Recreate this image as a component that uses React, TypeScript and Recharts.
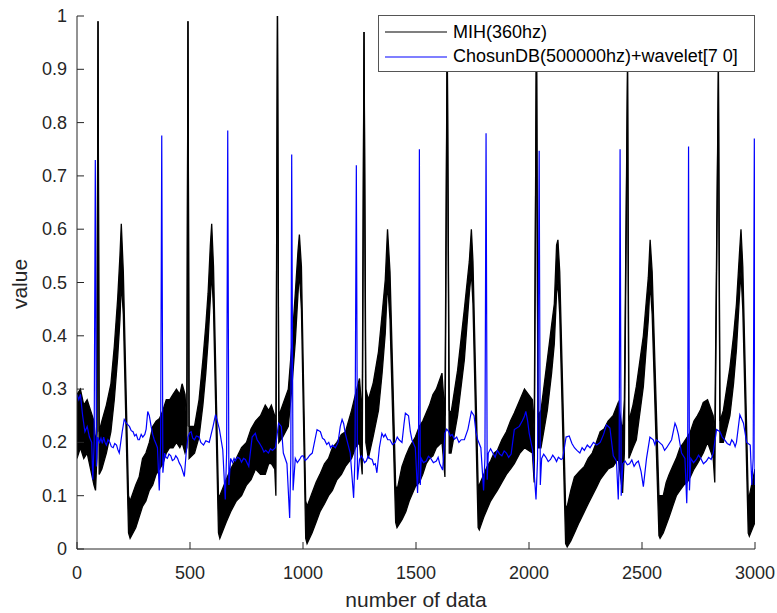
import {
  Area,
  ComposedChart,
  Label,
  Legend,
  Line,
  XAxis,
  YAxis,
} from "recharts";

const AXIS = "#262626";
const FONT = "'Liberation Sans', Arial, Helvetica, sans-serif";

const seriesNames = ["MIH(360hz)", "ChosunDB(500000hz)+wavelet[7 0]"];
const seriesColors = ["#000000", "#0000ff"];

const xTicks = [0, 500, 1000, 1500, 2000, 2500, 3000];
const yTicks = [0, 0.1, 0.2, 0.3, 0.4, 0.5, 0.6, 0.7, 0.8, 0.9, 1];
const yTickLabels = ["0", "0.1", "0.2", "0.3", "0.4", "0.5", "0.6", "0.7", "0.8", "0.9", "1"];

// MIH trace: the 360hz signal is a dense oscillation, kept as [x, low, high] of its band
const mihSamples: [number, number, number][] = [
  [0, 0.17, 0.29], [15, 0.19, 0.3], [30, 0.17, 0.27], [45, 0.18, 0.28], [60, 0.15, 0.26],
  [75, 0.12, 0.24], [82, 0.11, 0.2], [88, 0.17, 0.22], [93, 0.99, 0.99], [98, 0.14, 0.22],
  [110, 0.15, 0.24], [130, 0.18, 0.27], [150, 0.22, 0.31], [165, 0.28, 0.38], [180, 0.36, 0.47],
  [190, 0.43, 0.55], [196, 0.5, 0.61], [205, 0.44, 0.52], [228, 0.03, 0.1], [235, 0.02, 0.09],
  [260, 0.04, 0.12], [275, 0.06, 0.135], [290, 0.08, 0.17], [305, 0.09, 0.18], [320, 0.11, 0.2],
  [335, 0.12, 0.23], [350, 0.14, 0.24], [365, 0.15, 0.245], [380, 0.16, 0.26], [395, 0.18, 0.28],
  [410, 0.19, 0.28], [425, 0.19, 0.29], [440, 0.2, 0.3], [455, 0.19, 0.29], [465, 0.2, 0.31],
  [478, 0.18, 0.29], [486, 0.19, 0.23],
  [491, 0.99, 0.99], [496, 0.17, 0.23], [520, 0.18, 0.23], [540, 0.21, 0.28], [557, 0.27, 0.355],
  [570, 0.33, 0.42], [580, 0.39, 0.48], [590, 0.47, 0.57], [596, 0.52, 0.61], [604, 0.45, 0.53],
  [626, 0.03, 0.1], [632, 0.02, 0.1], [660, 0.05, 0.13], [680, 0.07, 0.15], [705, 0.09, 0.17],
  [728, 0.1, 0.19], [750, 0.12, 0.2], [770, 0.13, 0.225], [790, 0.15, 0.24], [812, 0.14, 0.25],
  [833, 0.14, 0.27], [848, 0.16, 0.26], [860, 0.16, 0.27], [875, 0.15, 0.25], [880, 0.1, 0.2],
  [887, 1.0, 1.0], [893, 0.2, 0.25], [910, 0.21, 0.27], [935, 0.23, 0.3], [950, 0.3, 0.38],
  [966, 0.39, 0.48], [978, 0.48, 0.56], [984, 0.52, 0.59], [993, 0.45, 0.53], [1012, 0.02, 0.09],
  [1018, 0.01, 0.08], [1040, 0.03, 0.105], [1058, 0.05, 0.125], [1075, 0.07, 0.14], [1095, 0.085, 0.16],
  [1113, 0.1, 0.17], [1130, 0.11, 0.19], [1150, 0.13, 0.2], [1170, 0.14, 0.215], [1188, 0.155, 0.22],
  [1215, 0.17, 0.26], [1232, 0.19, 0.29], [1250, 0.2, 0.32], [1262, 0.14, 0.25],
  [1270, 0.97, 0.97], [1278, 0.2, 0.3], [1289, 0.17, 0.28], [1310, 0.21, 0.31], [1334, 0.26, 0.37],
  [1350, 0.33, 0.44], [1364, 0.405, 0.505], [1374, 0.5, 0.6], [1385, 0.43, 0.52], [1410, 0.05, 0.12],
  [1416, 0.04, 0.11], [1438, 0.055, 0.155], [1455, 0.07, 0.175], [1470, 0.09, 0.19], [1497, 0.117, 0.21],
  [1515, 0.125, 0.23], [1530, 0.14, 0.24], [1545, 0.16, 0.255], [1560, 0.17, 0.27], [1575, 0.175, 0.29],
  [1590, 0.19, 0.3], [1615, 0.2, 0.33], [1628, 0.135, 0.25], [1638, 0.97, 0.97],
  [1647, 0.18, 0.26], [1655, 0.18, 0.255], [1684, 0.25, 0.335], [1714, 0.355, 0.45], [1736, 0.48, 0.54],
  [1745, 0.52, 0.6], [1752, 0.46, 0.54], [1775, 0.04, 0.12], [1780, 0.036, 0.12], [1800, 0.06, 0.14],
  [1815, 0.075, 0.155], [1830, 0.09, 0.165], [1845, 0.1, 0.18], [1860, 0.11, 0.185], [1880, 0.125, 0.205],
  [1900, 0.14, 0.22], [1918, 0.15, 0.24], [1935, 0.16, 0.255], [1960, 0.18, 0.28],
  [1980, 0.19, 0.3], [2015, 0.18, 0.28], [2023, 0.125, 0.22], [2033, 0.98, 0.98], [2040, 0.19, 0.25],
  [2053, 0.19, 0.26], [2081, 0.26, 0.355], [2100, 0.33, 0.42], [2112, 0.385, 0.46], [2122, 0.48, 0.57],
  [2128, 0.5, 0.58], [2136, 0.44, 0.52], [2162, 0.01, 0.08], [2169, 0.004, 0.08], [2185, 0.015, 0.11],
  [2201, 0.03, 0.135], [2222, 0.05, 0.145], [2245, 0.07, 0.155], [2262, 0.085, 0.17], [2280, 0.1, 0.18],
  [2298, 0.115, 0.2], [2315, 0.13, 0.22], [2332, 0.14, 0.225], [2350, 0.15, 0.24], [2372, 0.155, 0.25],
  [2395, 0.17, 0.275], [2414, 0.105, 0.22], [2422, 0.18, 0.28], [2436, 0.9, 0.9], [2442, 0.17, 0.24],
  [2460, 0.19, 0.27], [2475, 0.205, 0.305], [2506, 0.305, 0.4], [2528, 0.43, 0.51], [2536, 0.5, 0.58],
  [2545, 0.44, 0.52], [2575, 0.025, 0.1], [2580, 0.02, 0.1], [2594, 0.03, 0.1], [2607, 0.045, 0.125],
  [2620, 0.06, 0.14], [2636, 0.08, 0.155], [2652, 0.1, 0.17], [2668, 0.11, 0.19], [2685, 0.12, 0.2],
  [2700, 0.125, 0.21], [2714, 0.135, 0.22], [2730, 0.15, 0.24], [2745, 0.16, 0.25], [2758, 0.17, 0.26],
  [2771, 0.18, 0.275], [2790, 0.2, 0.28], [2815, 0.17, 0.25], [2822, 0.125, 0.21], [2838, 0.9, 0.9],
  [2845, 0.2, 0.24], [2860, 0.2, 0.26], [2889, 0.25, 0.34], [2905, 0.31, 0.4], [2918, 0.375, 0.46],
  [2932, 0.48, 0.56], [2938, 0.52, 0.6], [2946, 0.45, 0.53], [2970, 0.03, 0.1], [2975, 0.024, 0.1],
  [2990, 0.04, 0.13], [3000, 0.05, 0.15],
];

// ChosunDB + wavelet trace as [x, value]
const chosunSamples: [number, number][] = [
  [0, 0.29], [8, 0.28], [15, 0.29], [25, 0.25], [35, 0.22], [45, 0.23], [55, 0.21], [65, 0.2],
  [70, 0.13], [76, 0.2], [81, 0.73], [86, 0.155], [92, 0.21], [100, 0.2], [106, 0.208], [112, 0.198],
  [118, 0.21], [124, 0.2], [130, 0.195], [137, 0.205], [145, 0.2], [152, 0.192], [160, 0.19],
  [167, 0.198], [175, 0.195], [181, 0.186], [187, 0.18], [200, 0.22], [209, 0.243], [220, 0.235],
  [232, 0.23], [240, 0.222], [248, 0.22], [255, 0.212], [262, 0.215], [270, 0.205], [276, 0.205],
  [284, 0.215], [291, 0.21], [300, 0.215], [306, 0.225], [313, 0.258], [320, 0.25], [328, 0.23],
  [335, 0.215], [342, 0.205], [349, 0.198], [356, 0.19], [364, 0.11], [370, 0.2], [375, 0.776],
  [380, 0.143], [388, 0.18], [394, 0.172], [400, 0.17], [407, 0.178], [415, 0.175], [422, 0.166],
  [430, 0.168], [437, 0.175], [445, 0.17], [452, 0.162], [461, 0.155], [475, 0.136], [483, 0.18],
  [491, 0.21], [498, 0.218], [505, 0.22], [512, 0.208], [520, 0.205], [528, 0.212], [540, 0.21],
  [548, 0.2], [560, 0.195], [570, 0.203], [585, 0.2], [602, 0.23], [613, 0.252], [621, 0.24],
  [630, 0.225], [645, 0.186], [656, 0.093], [662, 0.18], [667, 0.785], [672, 0.12], [680, 0.17],
  [688, 0.162], [695, 0.17], [700, 0.165], [710, 0.172], [720, 0.17], [728, 0.163], [737, 0.17],
  [745, 0.168], [760, 0.155], [775, 0.21], [789, 0.217], [797, 0.205], [805, 0.2], [812, 0.195],
  [819, 0.19], [827, 0.182], [835, 0.185], [847, 0.18], [856, 0.188], [865, 0.185], [878, 0.19],
  [892, 0.236], [904, 0.23], [913, 0.18], [929, 0.16], [941, 0.058], [946, 0.17], [950, 0.74],
  [956, 0.11], [966, 0.17], [975, 0.162], [985, 0.168], [993, 0.174], [1000, 0.175], [1010, 0.166],
  [1020, 0.17], [1030, 0.176], [1041, 0.18], [1062, 0.224], [1077, 0.22], [1086, 0.208], [1095, 0.205],
  [1105, 0.196], [1114, 0.2], [1122, 0.19], [1130, 0.195], [1143, 0.19], [1155, 0.2], [1165, 0.23],
  [1173, 0.243], [1180, 0.235], [1187, 0.217], [1200, 0.195], [1209, 0.18], [1224, 0.096], [1230, 0.17],
  [1236, 0.72], [1241, 0.13], [1250, 0.168], [1258, 0.175], [1265, 0.17], [1272, 0.162], [1280, 0.165],
  [1288, 0.174], [1295, 0.17], [1306, 0.168], [1313, 0.158], [1320, 0.16], [1327, 0.143], [1338, 0.19],
  [1349, 0.217], [1357, 0.21], [1364, 0.215], [1375, 0.205], [1385, 0.205], [1396, 0.196], [1408, 0.2],
  [1417, 0.21], [1425, 0.205], [1438, 0.2], [1447, 0.235], [1453, 0.255], [1467, 0.25], [1475, 0.22],
  [1482, 0.205], [1497, 0.19], [1507, 0.105], [1511, 0.17], [1515, 0.75], [1519, 0.12], [1523, 0.17],
  [1533, 0.162], [1545, 0.165], [1555, 0.174], [1565, 0.17], [1577, 0.162], [1590, 0.165], [1598, 0.172],
  [1605, 0.16], [1618, 0.148], [1628, 0.217], [1636, 0.225], [1645, 0.22], [1652, 0.212], [1660, 0.215],
  [1670, 0.206], [1680, 0.21], [1690, 0.2], [1700, 0.205], [1714, 0.205], [1730, 0.225], [1745, 0.258],
  [1757, 0.25], [1765, 0.22], [1773, 0.205], [1787, 0.19], [1799, 0.11], [1805, 0.17], [1810, 0.78],
  [1815, 0.13], [1820, 0.18], [1830, 0.188], [1840, 0.18], [1850, 0.172], [1860, 0.185], [1870, 0.178],
  [1880, 0.175], [1890, 0.184], [1900, 0.18], [1910, 0.172], [1921, 0.178], [1935, 0.224], [1957, 0.23],
  [1970, 0.24], [1979, 0.248], [1986, 0.258], [1994, 0.24], [2001, 0.217], [2016, 0.185], [2031, 0.093],
  [2038, 0.17], [2045, 0.747], [2050, 0.12], [2056, 0.17], [2065, 0.178], [2075, 0.172], [2085, 0.164],
  [2095, 0.168], [2105, 0.176], [2115, 0.17], [2122, 0.164], [2130, 0.172], [2142, 0.168], [2149, 0.17],
  [2164, 0.21], [2178, 0.212], [2190, 0.198], [2201, 0.19], [2212, 0.185], [2225, 0.18], [2235, 0.19],
  [2245, 0.185], [2258, 0.195], [2270, 0.19], [2285, 0.2], [2300, 0.195], [2315, 0.2], [2330, 0.215],
  [2343, 0.233], [2358, 0.227], [2373, 0.175], [2387, 0.165], [2395, 0.093], [2399, 0.17], [2403, 0.75],
  [2408, 0.1], [2415, 0.16], [2425, 0.165], [2435, 0.158], [2445, 0.16], [2455, 0.167], [2465, 0.155],
  [2475, 0.162], [2484, 0.165], [2496, 0.145], [2506, 0.117], [2520, 0.17], [2535, 0.21], [2550, 0.205],
  [2557, 0.196], [2564, 0.205], [2577, 0.2], [2590, 0.195], [2600, 0.185], [2609, 0.19], [2631, 0.205],
  [2646, 0.236], [2652, 0.23], [2661, 0.215], [2675, 0.18], [2690, 0.17], [2698, 0.086], [2702, 0.16],
  [2706, 0.755], [2710, 0.11], [2716, 0.17], [2728, 0.162], [2740, 0.168], [2750, 0.176], [2760, 0.17],
  [2772, 0.16], [2785, 0.165], [2795, 0.172], [2806, 0.168], [2815, 0.18], [2830, 0.224], [2845, 0.22],
  [2855, 0.21], [2865, 0.205], [2877, 0.198], [2889, 0.195], [2897, 0.205], [2905, 0.2], [2912, 0.192],
  [2918, 0.2], [2933, 0.252], [2949, 0.236], [2963, 0.2], [2979, 0.195], [2986, 0.12], [2992, 0.17],
  [2997, 0.77], [3000, 0.12],
];

const mihData = mihSamples.map(([x, lo, hi]) => ({ x, band: [lo, hi] }));
const chosunData = chosunSamples.map(([x, y]) => ({ x, y }));

const tickText = { fontSize: 18, fill: AXIS, fontFamily: FONT };

function BottomTick({ x, y, payload }: any) {
  return (
    <g>
      <line x1={x} y1={y} x2={x} y2={y - 7} stroke={AXIS} />
      <text x={x} y={y + 30} textAnchor="middle" {...tickText}>
        {payload.value}
      </text>
    </g>
  );
}

function TopTick({ x, y }: any) {
  return <line x1={x} y1={y} x2={x} y2={y + 7} stroke={AXIS} />;
}

function LeftTick({ x, y, payload }: any) {
  const label = yTickLabels[yTicks.indexOf(payload.value)];
  return (
    <g>
      <line x1={x} y1={y} x2={x + 7} y2={y} stroke={AXIS} />
      <text x={x - 10} y={y + 6} textAnchor="end" {...tickText}>
        {label}
      </text>
    </g>
  );
}

function RightTick({ x, y }: any) {
  return <line x1={x} y1={y} x2={x - 7} y2={y} stroke={AXIS} />;
}

function LegendBox() {
  return (
    <div
      style={{
        width: 377,
        height: 57,
        boxSizing: "border-box",
        border: "1px solid #555",
        background: "#fff",
        fontFamily: FONT,
        fontSize: 18,
        color: "#000",
        position: "relative",
      }}
    >
      {seriesNames.map((name, i) => (
        <div
          key={name}
          style={{
            position: "absolute",
            left: 6,
            top: 5 + i * 24.5,
            height: 22,
            display: "flex",
            alignItems: "center",
            whiteSpace: "nowrap",
          }}
        >
          <svg width={62} height={4} style={{ marginRight: 6 }}>
            <line x1={0} y1={2} x2={62} y2={2} stroke={seriesColors[i]} strokeWidth={1.2} />
          </svg>
          <span>{name}</span>
        </div>
      ))}
    </div>
  );
}

export default function App() {
  return (
    <div
      style={{
        position: "absolute",
        left: 0,
        top: 0,
        width: 777,
        height: 613,
        background: "#fff",
        fontFamily: FONT,
      }}
    >
      <ComposedChart
        width={777}
        height={613}
        margin={{ top: 16, right: 22, bottom: 0, left: 0 }}
      >
        <XAxis
          xAxisId="b"
          dataKey="x"
          type="number"
          domain={[0, 3000]}
          ticks={xTicks}
          interval={0}
          height={64}
          tickSize={0}
          tickMargin={0}
          tickLine={false}
          axisLine={{ stroke: AXIS }}
          tick={<BottomTick />}
          allowDataOverflow
        >
          <Label
            content={() => (
              <text x={416} y={607} textAnchor="middle" fontSize={21} fill={AXIS} fontFamily={FONT}>
                number of data
              </text>
            )}
          />
        </XAxis>
        <XAxis
          xAxisId="t"
          orientation="top"
          dataKey="x"
          type="number"
          domain={[0, 3000]}
          ticks={xTicks}
          interval={0}
          height={0}
          tickSize={0}
          tickMargin={0}
          tickLine={false}
          axisLine={{ stroke: AXIS }}
          tick={<TopTick />}
          allowDataOverflow
        />
        <YAxis
          yAxisId="l"
          type="number"
          domain={[0, 1]}
          ticks={yTicks}
          interval={0}
          width={77}
          tickSize={0}
          tickMargin={0}
          tickLine={false}
          axisLine={{ stroke: AXIS }}
          tick={<LeftTick />}
          allowDataOverflow
        >
          <Label
            content={() => (
              <text
                x={27}
                y={284}
                transform="rotate(-90 27 284)"
                textAnchor="middle"
                fontSize={21}
                fill={AXIS}
                fontFamily={FONT}
              >
                value
              </text>
            )}
          />
        </YAxis>
        <YAxis
          yAxisId="r"
          orientation="right"
          type="number"
          domain={[0, 1]}
          ticks={yTicks}
          interval={0}
          width={0}
          tickSize={0}
          tickMargin={0}
          tickLine={false}
          axisLine={{ stroke: AXIS }}
          tick={<RightTick />}
          allowDataOverflow
        />
        <Area
          xAxisId="b"
          yAxisId="l"
          data={mihData}
          dataKey="band"
          name={seriesNames[0]}
          type="linear"
          stroke={seriesColors[0]}
          strokeWidth={1.3}
          fill={seriesColors[0]}
          fillOpacity={1}
          dot={false}
          activeDot={false}
          isAnimationActive={false}
        />
        <Line
          xAxisId="b"
          yAxisId="l"
          data={chosunData}
          dataKey="y"
          name={seriesNames[1]}
          type="linear"
          stroke={seriesColors[1]}
          strokeWidth={1.2}
          dot={false}
          activeDot={false}
          isAnimationActive={false}
        />
        <Legend
          layout="vertical"
          align="center"
          verticalAlign="middle"
          content={() => <LegendBox />}
          wrapperStyle={{ position: "absolute", left: 378, top: 15, width: 377, height: 57 }}
        />
      </ComposedChart>
    </div>
  );
}
